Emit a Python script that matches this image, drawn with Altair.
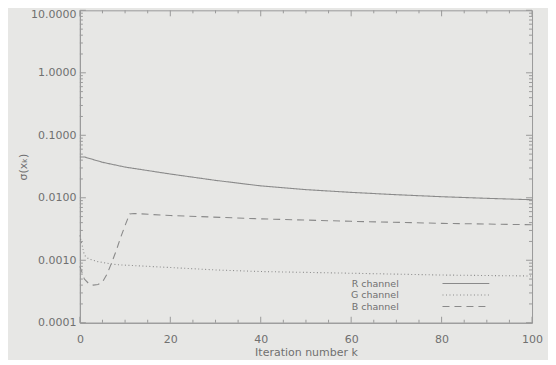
import altair as alt
import pandas as pd

# ---- data ----
ITER_R = [0, 1, 5, 10, 20, 30, 40, 50, 60, 70, 80, 90, 100]
SIGMA_R = [0.045, 0.045, 0.037, 0.031, 0.024, 0.019, 0.0155, 0.0135, 0.0122, 0.0112, 0.0104, 0.0098, 0.0093]

ITER_G = [0, 1, 2, 4, 8, 15, 30, 40, 60, 80, 100]
SIGMA_G = [0.0025, 0.0012, 0.00105, 0.00095, 0.00085, 0.0008, 0.0007, 0.00066, 0.00062, 0.00058, 0.00056]

ITER_B = [0, 1, 2, 3, 4, 5, 6, 7, 8, 9, 10, 11, 12, 20, 40, 60, 80, 100]
SIGMA_B = [0.0008, 0.0005, 0.00042, 0.0004, 0.00041, 0.00045, 0.0006, 0.0009, 0.0014, 0.0023,
           0.0036, 0.0055, 0.0056, 0.0052, 0.0046, 0.0042, 0.0039, 0.0037]

CHANNELS = ["R channel", "G channel", "B channel"]
X_MAJOR = [0, 20, 40, 60, 80, 100]
X_MINOR = [v for v in range(0, 101, 5) if v % 20 != 0]
Y_MAJOR = [0.0001, 0.001, 0.01, 0.1, 1, 10]
Y_MINOR = [m * d for d in [0.0001, 0.001, 0.01, 0.1, 1] for m in range(2, 10)]

rows = []
for name, xs_, ys_ in zip(CHANNELS, [ITER_R, ITER_G, ITER_B], [SIGMA_R, SIGMA_G, SIGMA_B]):
    for i, s in zip(xs_, ys_):
        rows.append({"iter": i, "sigma": s, "channel": name})
df = pd.DataFrame(rows)

W, H = 453, 313
GRAY = "#8a8a8a"
TXT = "#707070"
AX = "#9a9a9a"
FONT = "DejaVu Sans"

XS = alt.Scale(domain=[0, 100], nice=False, zero=False)
YS = alt.Scale(type="log", domain=[0.0001, 10], nice=False)

lines = alt.Chart(df).mark_line(color=GRAY, strokeWidth=1.1).encode(
    x=alt.X("iter:Q", scale=XS, axis=alt.Axis(
        values=X_MAJOR, title="Iteration number k", tickSize=0, labelPadding=11,
        titlePadding=2, grid=False, domainColor=AX, labelColor=TXT, titleColor=TXT,
        labelFont=FONT, titleFont=FONT, labelFontSize=11, titleFontSize=11,
        titleFontWeight="normal", labelFlush=False)),
    y=alt.Y("sigma:Q", scale=YS, axis=alt.Axis(
        values=Y_MAJOR, format=".4f", title="σ(xₖ)", tickSize=0, labelPadding=4,
        labelOffset={"condition": {"test": "datum.value >= 10", "value": 4}, "value": 0},
        titlePadding=2, grid=False, domainColor=AX, labelColor=TXT, titleColor=TXT,
        labelFont=FONT, titleFont=FONT, labelFontSize=11, titleFontSize=11,
        titleFontWeight="normal", labelFlush=False)),
    strokeDash=alt.StrokeDash("channel:N", scale=alt.Scale(
        domain=CHANNELS, range=[[1, 0], [1, 2.5], [7, 5]]),
        legend=alt.Legend(
            title=None, orient="none", legendX=382, legendY=269,
            symbolType="M-10,0H10", symbolSize=22, symbolStrokeColor=GRAY,
            symbolStrokeWidth=1.1, labelOffset={"expr": "-72"}, labelAlign="right",
            labelFont=FONT, labelFontSize=9.5, labelColor=TXT, rowPadding=0.5)),
)

xmaj = pd.DataFrame({"v": X_MAJOR})
xmin = pd.DataFrame({"v": X_MINOR})
ymaj = pd.DataFrame({"v": Y_MAJOR})
ymin = pd.DataFrame({"v": Y_MINOR})


def yticks(data, size, xval, path):
    return alt.Chart(data).mark_point(
        shape=path, size=size, filled=False, opacity=1, color=AX, strokeWidth=1
    ).encode(x=alt.datum(xval), y=alt.Y("v:Q"))


def xticks(data, size, yval, path):
    return alt.Chart(data).mark_point(
        shape=path, size=size, filled=False, opacity=1, color=AX, strokeWidth=1
    ).encode(x=alt.X("v:Q"), y=alt.datum(yval))


layers = [
    lines,
    yticks(ymaj, 36, 0, "M0,0H2"), yticks(ymin, 9, 0, "M0,0H2"),
    yticks(ymaj, 36, 100, "M0,0H-2"), yticks(ymin, 9, 100, "M0,0H-2"),
    xticks(xmaj, 36, 0.0001, "M0,0V-2"), xticks(xmin, 9, 0.0001, "M0,0V-2"),
    xticks(xmaj, 36, 10, "M0,0V2"), xticks(xmin, 9, 10, "M0,0V2"),
]

chart = alt.layer(*layers).properties(
    width=W, height=H, background="#e7e7e5",
    padding={"left": 9, "top": 0, "right": 5, "bottom": 2},
).configure_view(stroke=AX, strokeWidth=1)

chart.save("out.html", embed_options={"renderer": "svg", "actions": False})
